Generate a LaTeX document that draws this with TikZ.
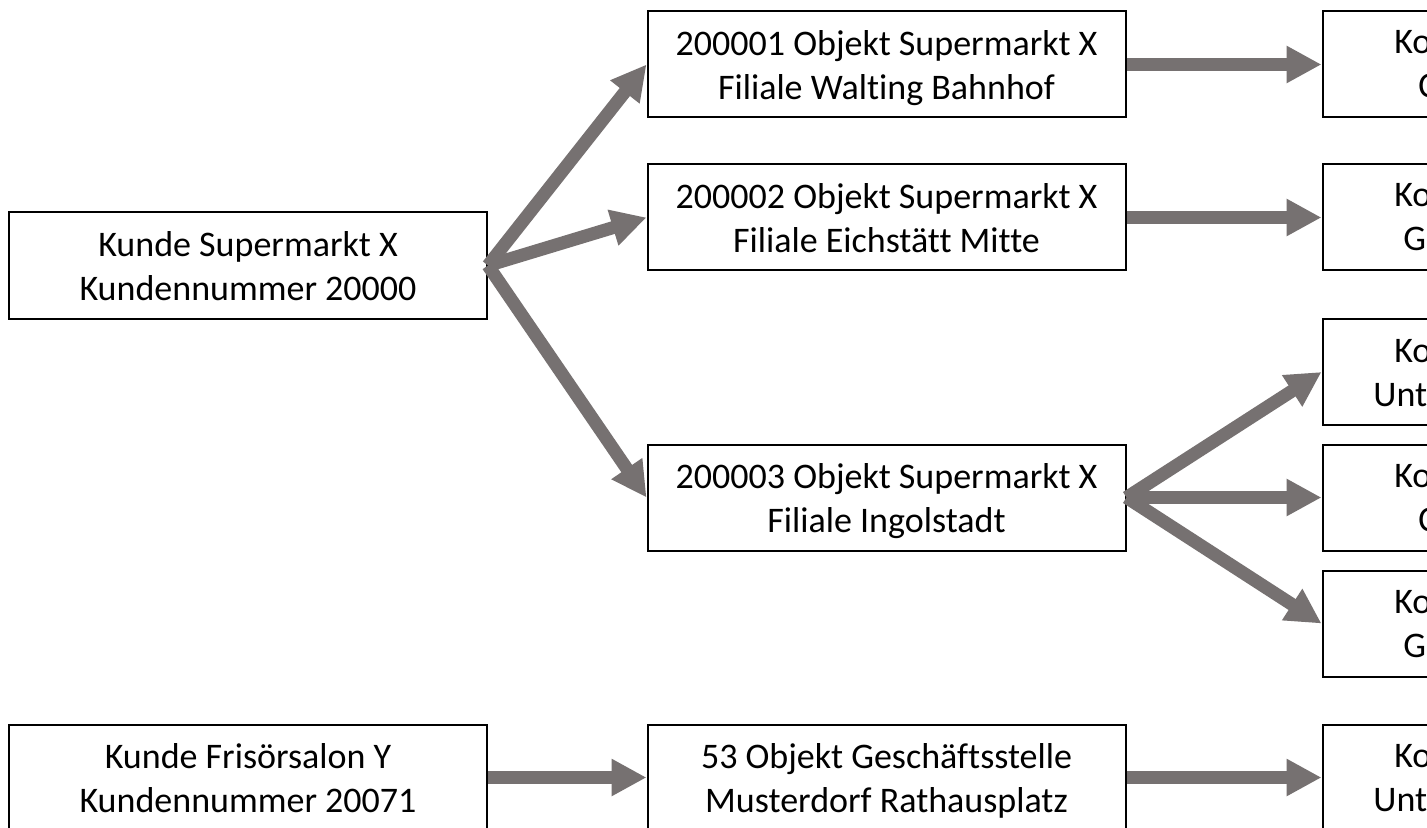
\documentclass[tikz,border=0pt]{standalone}
\usepackage{fontspec}
\setmainfont{Carlito}[Ligatures=NoCommon]
\usetikzlibrary{arrows.meta}
\definecolor{arrowgray}{HTML}{767171}
\newcommand\twoline[2]{\rule{0pt}{14pt}#1\\\raisebox{0pt}[\height][1pt]{#2}}
\tikzset{
  box/.style={draw=black, line width=1pt, rectangle, minimum width=239pt, minimum height=53pt,
    inner sep=0pt, align=center,
    font=\fontsize{18pt}{22pt}\selectfont},
  rbox/.style={draw=black, line width=1pt, rectangle, minimum width=239pt, minimum height=53pt, inner sep=0pt},
  part/.style={anchor=base west, inner sep=0pt, font=\fontsize{18pt}{22pt}\selectfont},
  bigarrow/.style={draw=arrowgray, line width=6.5pt, line cap=butt,
    -{Triangle[length=17.5pt,width=17.5pt]}}
}
\begin{document}
\begin{tikzpicture}[x=0.5pt,y=-0.5pt]
\useasboundingbox (0,0) rectangle (1427,828);
\clip (0,0) rectangle (1427,828);
\fill[white] (0,0) rectangle (1427,828);
% left column
\node[box] (k1) at (248,265.5) {\twoline{Kunde Supermarkt X}{Kundennummer 20000}};
\node[box] (k2) at (248,777.5) {\twoline{Kunde Frisörsalon Y}{Kundennummer 20071}};
% middle column
\node[box] (o1) at (886.5,64.5) {\twoline{200001 Objekt Supermarkt X}{Filiale Walting Bahnhof}};
\node[box] (o2) at (886.5,217.5) {\twoline{200002 Objekt Supermarkt X}{Filiale Eichstätt Mitte}};
\node[box] (o3) at (886.5,497.5) {\twoline{200003 Objekt Supermarkt X}{Filiale Ingolstadt}};
\node[box] (o4) at (886.5,777.5) {\twoline{53 Objekt Geschäftsstelle}{Musterdorf Rathausplatz}};
% right column (cut off)
\node[rbox] (r1) at (1561.5,64.5) {};
\node[rbox] (r2) at (1561.5,217.5) {};
\node[rbox] (r3) at (1561.5,372) {};
\node[rbox] (r4) at (1561.5,497.5) {};
\node[rbox] (r5) at (1561.5,623.5) {};
\node[rbox] (r6) at (1561.5,777.5) {};
\node[part] (r1a) at (1394,54) {Ko};
\node[part] (r1b) at (1418,98) {C};
\node[part] (r2a) at (1394,207) {Ko};
\node[part] (r2b) at (1403,251) {G};
\node[part] (r3a) at (1394,362) {Ko};
\node[part] (r3b) at (1373,406) {Unte};
\node[part] (r4a) at (1394,487) {Ko};
\node[part] (r4b) at (1418,531) {C};
\node[part] (r5a) at (1394,613) {Ko};
\node[part] (r5b) at (1403,657) {G};
\node[part] (r6a) at (1394,767) {Ko};
\node[part] (r6b) at (1373,811) {Unte};
% arrows
\draw[bigarrow] (k1.east) -- (o1.west);
\draw[bigarrow] (k1.east) -- (o2.west);
\draw[bigarrow] (k1.east) -- (o3.west);
\draw[bigarrow] (k2.east) -- (o4.west);
\draw[bigarrow] (o1.east) -- (r1.west);
\draw[bigarrow] (o2.east) -- (r2.west);
\draw[bigarrow] (o3.east) -- (r3.west);
\draw[bigarrow] (o3.east) -- (r4.west);
\draw[bigarrow] (o3.east) -- (r5.west);
\draw[bigarrow] (o4.east) -- (r6.west);
\end{tikzpicture}
\end{document}
